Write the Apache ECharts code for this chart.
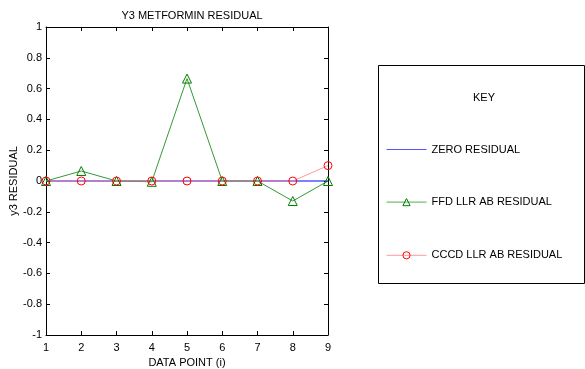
<!DOCTYPE html>
<html>
<head>
<meta charset="utf-8">
<script src="https://cdn.jsdelivr.net/npm/echarts@6/dist/echarts.min.js"></script>
<style>
  html, body { margin: 0; padding: 0; background: #fff; }
  #chart-container { width: 585px; height: 369px; }
</style>
</head>
<body>
<div id="chart-container"></div>
<script>
// data points along x
const dataPoints = [1, 2, 3, 4, 5, 6, 7, 8, 9];
const zeroResidual = [0, 0, 0, 0, 0, 0, 0, 0, 0];
const ffdResidual = [0, 0.065, 0, -0.005, 0.665, 0, 0, -0.13, 0];
const cccdResidual = [0, 0, 0, 0, 0, 0, 0, 0, 0.1];

const pairs = (ys) => dataPoints.map((x, i) => [x, ys[i]]);

const font = "Liberation Sans, Arial, sans-serif";
const chart = echarts.init(document.getElementById("chart-container"));

const blue = "#0000ff";
const green = "#339933";
const greenMark = "#008000";
const pink = "#ff8080";
const red = "#ff0000";

const frameAxis = {
  axisLine: { show: true, onZero: false, lineStyle: { color: "#000", width: 1 } },
  axisTick: { show: true, inside: true, length: 4, lineStyle: { color: "#000" } },
  splitLine: { show: false },
};

const option = {
  animation: false,
  title: {
    text: "Y3 METFORMIN RESIDUAL",
    left: 187,
    top: 5,
    textAlign: "center",
    textStyle: { fontFamily: font, fontSize: 11, fontWeight: "normal", color: "#000" },
  },
  grid: { left: 46, right: 257, top: 27, bottom: 34, outerBoundsMode: "none", containLabel: false },
  xAxis: [
    {
      ...frameAxis,
      type: "value",
      min: 1,
      max: 9,
      interval: 1,
      position: "bottom",
      name: "DATA POINT (i)",
      nameLocation: "middle",
      nameGap: 20,
      nameTextStyle: { fontFamily: font, fontSize: 11, color: "#000" },
      axisLabel: { fontFamily: font, fontSize: 11, color: "#000", margin: 7 },
    },
    {
      ...frameAxis,
      type: "value",
      min: 1,
      max: 9,
      interval: 1,
      position: "top",
      axisLabel: { show: false },
    },
  ],
  yAxis: [
    {
      ...frameAxis,
      type: "value",
      min: -1,
      max: 1,
      interval: 0.2,
      position: "left",
      name: "y3 RESIDUAL",
      nameLocation: "middle",
      nameGap: 27,
      nameTextStyle: { fontFamily: font, fontSize: 11, color: "#000" },
      axisLabel: { fontFamily: font, fontSize: 11, color: "#000", margin: 4 },
    },
    {
      ...frameAxis,
      type: "value",
      min: -1,
      max: 1,
      interval: 0.2,
      position: "right",
      axisLabel: { show: false },
    },
  ],
  legend: {
    orient: "vertical",
    left: 386,
    top: 144,
    padding: 0,
    itemWidth: 40,
    itemHeight: 9,
    itemGap: 41,
    textStyle: { fontFamily: font, fontSize: 11, color: "#000" },
    data: [
      {
        name: "ZERO RESIDUAL",
        lineStyle: { color: "#5555ff", width: 1 },
        itemStyle: { color: "none", borderWidth: 0, opacity: 0 },
      },
      {
        name: "FFD LLR AB RESIDUAL",
        lineStyle: { color: "#55aa55", width: 1 },
        itemStyle: { color: "none", borderColor: greenMark, borderWidth: 1 },
      },
      {
        name: "CCCD LLR AB RESIDUAL",
        lineStyle: { color: "#ff8080", width: 1 },
        itemStyle: { color: "none", borderColor: red, borderWidth: 1 },
      },
    ],
  },
  graphic: [
    {
      type: "rect",
      shape: { x: 378.5, y: 65.5, width: 206, height: 218 },
      style: { fill: "none", stroke: "#000", lineWidth: 1 },
      z: -1,
    },
    {
      type: "text",
      left: 473,
      top: 92,
      style: { text: "KEY", font: "11px " + font, fill: "#000" },
    },
  ],
  series: [
    {
      name: "ZERO RESIDUAL",
      type: "line",
      data: pairs(zeroResidual),
      showSymbol: false,
      symbol: "none",
      lineStyle: { color: blue, width: 1 },
      itemStyle: { color: blue },
    },
    {
      name: "FFD LLR AB RESIDUAL",
      type: "line",
      data: pairs(ffdResidual),
      symbol: "triangle",
      symbolSize: 9,
      lineStyle: { color: green, width: 1 },
      itemStyle: { color: "none", borderColor: greenMark, borderWidth: 1 },
    },
    {
      name: "CCCD LLR AB RESIDUAL",
      type: "line",
      data: pairs(cccdResidual),
      symbol: "circle",
      symbolSize: 8,
      lineStyle: { color: pink, width: 1, opacity: 0.8 },
      itemStyle: { color: "none", borderColor: red, borderWidth: 1 },
    },
  ],
};

chart.setOption(option);
window.addEventListener("resize", () => chart.resize());
</script>
</body>
</html>
